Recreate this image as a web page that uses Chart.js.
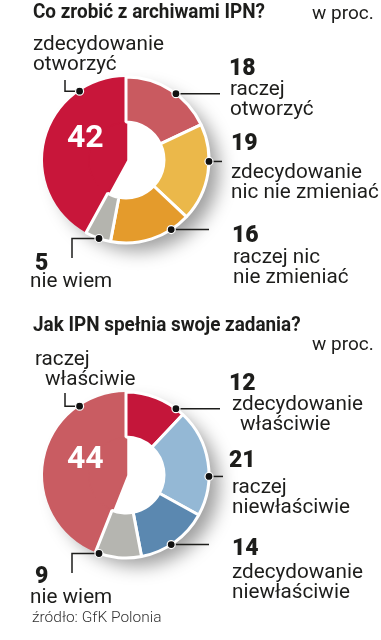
<!DOCTYPE html>
<html lang="pl">
<head>
<meta charset="utf-8">
<script src="https://cdn.jsdelivr.net/npm/chart.js@4.4.1/dist/chart.umd.min.js"></script>
<style>
  html, body { margin: 0; padding: 0; background: #fff; }
  #wrap { position: relative; width: 381px; height: 640px; overflow: hidden;
          font-family: Roboto, 'Noto Sans', sans-serif; color: #1d1d1b; }
  canvas { position: absolute; left: 0; }
  .t { position: absolute; white-space: nowrap; }
  .title { font-weight: 700; font-size: 21px; line-height: 21px; transform: scaleX(0.9); transform-origin: 0 0; }
  .unit { font-size: 19px; line-height: 19px; }
  .lbl { font-size: 20.7px; line-height: 20px; }
  .lbl span { display: block; }
  .num { font-weight: 900; font-size: 23px; line-height: 23px; }
  .big { font-weight: 700; font-size: 32px; line-height: 32px; color: #fff; }
  .src { font-size: 15.5px; line-height: 16px; font-weight: 300; color: #333; }
</style>
</head>
<body>
<div id="wrap">
  <canvas id="archive" width="381" height="320" style="top:0"></canvas>
  <canvas id="ipn" width="381" height="320" style="top:320px"></canvas>
  <div class="t title" style="left:33px;top:1px">Co zrobić z archiwami IPN?</div>
  <div class="t unit" style="left:312px;top:3px">w proc.</div>
  <div class="t title" style="left:33px;top:314px">Jak IPN spełnia swoje zadania?</div>
  <div class="t unit" style="left:312px;top:334px">w proc.</div>
  <div class="t src" style="left:32px;top:609px">źródło: GfK Polonia</div>
</div>
<script>
// Co zrobić z archiwami IPN? (clockwise, starting with the big slice)
const ARCHIVE_LABELS = ['zdecydowanie\notworzyć', 'raczej\notworzyć', 'zdecydowanie\nnic nie zmieniać', 'raczej nic\nnie zmieniać', 'nie wiem'];
const ARCHIVE_VALUES = [42, 18, 19, 16, 5];
const ARCHIVE_COLORS = ['#c8163a', '#c95a60', '#ebb84a', '#e49b2c', '#b4b4ae'];

// Jak IPN spełnia swoje zadania?
const IPN_LABELS = ['raczej\nwłaściwie', 'zdecydowanie\nwłaściwie', 'raczej\nniewłaściwie', 'zdecydowanie\nniewłaściwie', 'nie wiem'];
const IPN_VALUES = [44, 12, 21, 14, 9];
const IPN_COLORS = ['#c95c62', '#c4163a', '#94b8d5', '#5b88b0', '#b5b5b0'];

// label placement (page px): number pos, text pos, per-line indents
const ARCHIVE_LAYOUT = [
  { num: [67, 120], big: true, text: [33, 33] },
  { num: [229, 56], text: [230, 78] },
  { num: [231, 131], text: [231, 161] },
  { num: [232, 223], text: [233, 246] },
  { num: [35, 251], text: [30, 270] },
];
const IPN_LAYOUT = [
  { num: [67, 441], big: true, text: [35, 348], indent: [0, 10] },
  { num: [229, 371], text: [232, 393], indent: [0, 8] },
  { num: [229, 448], text: [232, 476] },
  { num: [232, 536], text: [232, 561] },
  { num: [35, 564], text: [30, 586] },
];

// leader lines (canvas px): angle clockwise from top, then end x / optional end y
const ARCHIVE_LEADERS = [
  { angle: 326, x: 65, y: 80 }, { angle: 37, x: 220 }, { angle: 91, x: 222 },
  { angle: 147, x: 209 }, { angle: 199, x: 72, y: 258 },
];
const IPN_LEADERS = [
  { angle: 326, x: 65, y: 73 }, { angle: 37, x: 220 }, { angle: 91, x: 223 },
  { angle: 147, x: 209 }, { angle: 199, x: 72, y: 253 },
];

const leaderPlugin = {
  id: 'leaders',
  beforeDatasetsDraw(chart) {
    const a = chart.getDatasetMeta(0).data[0];
    const ctx = chart.ctx;
    ctx.save();
    ctx.shadowColor = 'rgba(0,0,0,0.38)';
    ctx.shadowBlur = 18;
    ctx.shadowOffsetX = 12;
    ctx.shadowOffsetY = 10;
    ctx.fillStyle = '#fff';
    ctx.beginPath();
    ctx.arc(a.x, a.y, a.outerRadius - 2, 0, Math.PI * 2);
    ctx.fill();
    ctx.restore();
  },
  afterDatasetsDraw(chart, args, opts) {
    const a = chart.getDatasetMeta(0).data[0];
    const ctx = chart.ctx;
    ctx.save();
    (opts.lines || []).forEach((l) => {
      const rad = l.angle * Math.PI / 180;
      const px = a.x + a.outerRadius * Math.sin(rad);
      const py = a.y - a.outerRadius * Math.cos(rad);
      ctx.strokeStyle = '#1d1d1b';
      ctx.lineWidth = 1.5;
      ctx.beginPath();
      ctx.moveTo(px, py);
      ctx.lineTo(l.x, py);
      if (l.y != null) ctx.lineTo(l.x, l.y);
      ctx.stroke();
      ctx.beginPath();
      ctx.arc(px, py, 4, 0, Math.PI * 2);
      ctx.fillStyle = '#111';
      ctx.fill();
      ctx.lineWidth = 1.2;
      ctx.strokeStyle = '#fff';
      ctx.stroke();
    });
    ctx.restore();
  },
};

function makeChart(id, values, colors, leaders, padBottom) {
  const total = values.reduce((s, v) => s + v, 0);
  return new Chart(document.getElementById(id), {
    type: 'doughnut',
    data: {
      labels: values.map(String),
      datasets: [
        { data: values, backgroundColor: colors, borderColor: '#fff',
          borderWidth: values.map((v, i) => (i === 0 ? 0 : 3)), weight: 45 },
        // inner ring: only the big slice is filled, so it reaches the centre
        { data: values, backgroundColor: colors.map((c, i) => (i === 0 ? c : 'rgba(0,0,0,0)')),
          borderColor: colors[0], borderWidth: values.map((v, i) => (i === 0 ? 2.5 : 0)), weight: 38 },
      ],
    },
    options: {
      responsive: false, animation: false, events: [],
      radius: 83, cutout: 0,
      rotation: -values[0] / total * 360,
      layout: { padding: { right: 129, bottom: padBottom } },
      plugins: { legend: { display: false }, tooltip: { enabled: false }, leaders: { lines: leaders } },
    },
    plugins: [leaderPlugin],
  });
}

function addLabels(values, labels, layout) {
  const wrap = document.getElementById('wrap');
  layout.forEach((p, i) => {
    const n = document.createElement('div');
    n.className = 't ' + (p.big ? 'big' : 'num');
    n.style.left = p.num[0] + 'px';
    n.style.top = p.num[1] + 'px';
    n.textContent = values[i];
    wrap.appendChild(n);

    const t = document.createElement('div');
    t.className = 't lbl';
    t.style.left = p.text[0] + 'px';
    t.style.top = p.text[1] + 'px';
    labels[i].split('\n').forEach((line, k) => {
      const s = document.createElement('span');
      s.textContent = line;
      if (p.indent) s.style.paddingLeft = p.indent[k] + 'px';
      t.appendChild(s);
    });
    wrap.appendChild(t);
  });
}

makeChart('archive', ARCHIVE_VALUES, ARCHIVE_COLORS, ARCHIVE_LEADERS, 0);
makeChart('ipn', IPN_VALUES, IPN_COLORS, IPN_LEADERS, 10);
addLabels(ARCHIVE_VALUES, ARCHIVE_LABELS, ARCHIVE_LAYOUT);
addLabels(IPN_VALUES, IPN_LABELS, IPN_LAYOUT);
</script>
</body>
</html>
